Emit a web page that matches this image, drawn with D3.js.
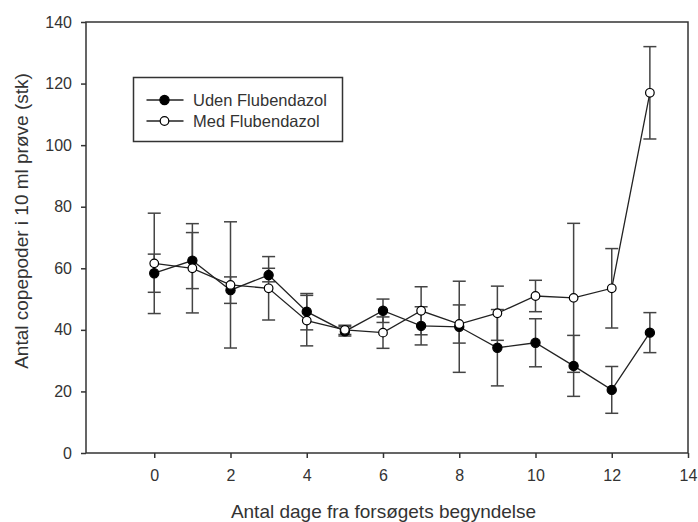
<!DOCTYPE html>
<html><head><meta charset="utf-8">
<script src="https://cdn.jsdelivr.net/npm/d3@7"></script>
<style>
body{margin:0;background:#fff;}
text{font-family:"Liberation Sans",Arial,sans-serif;fill:#333;}
</style></head>
<body>
<svg id="chart" width="698" height="522"></svg>
<script>
const days = [0,1,2,3,4,5,6,7,8,9,10,11,12,13];
const udenMean = [58.4,62.5,52.9,57.8,45.9,39.5,46.2,41.3,41.0,34.2,35.8,28.3,20.5,39.1];
const udenErr  = [6.2,9.1,4.3,2.2,5.9,1.5,3.8,6.2,14.8,12.4,7.8,9.9,7.6,6.5];
const medMean  = [61.6,60.0,54.6,53.5,43.0,40.0,39.1,46.2,41.9,45.4,51.0,50.4,53.5,117.0];
const medErr   = [16.3,14.5,20.5,10.3,8.2,1.5,5.1,7.8,6.2,8.8,5.1,24.2,12.9,15.0];
const xTicks = [0,2,4,6,8,10,12,14];
const yTicks = [0,20,40,60,80,100,120,140];
const seriesNames = ["Uden Flubendazol","Med Flubendazol"];
const xTitle = "Antal dage fra forsøgets begyndelse";
const yTitle = "Antal copepoder i 10 ml prøve (stk)";

const svg = d3.select("#chart");
const L=86, R=688, T=22, B=453;
const x = d3.scaleLinear().domain([-1.79,14]).range([L,R]);
const y = d3.scaleLinear().domain([0,140]).range([B,T]);
const ink = "#333";

// frame
svg.append("rect").attr("x",L).attr("y",T).attr("width",R-L).attr("height",B-T)
  .attr("fill","none").attr("stroke",ink).attr("stroke-width",1.5);

// axes
const xa = svg.append("g").attr("transform",`translate(0,${B})`)
  .call(d3.axisBottom(x).tickValues(xTicks).tickSize(5).tickPadding(12).tickSizeOuter(0));
const ya = svg.append("g").attr("transform",`translate(${L},0)`)
  .call(d3.axisLeft(y).tickValues(yTicks).tickSize(5).tickPadding(9).tickSizeOuter(0));
[xa,ya].forEach(g=>{
  g.select(".domain").remove();
  g.selectAll(".tick line").attr("stroke",ink).attr("stroke-width",1.5);
  g.selectAll(".tick text").attr("font-size",16).attr("fill","#333")
   .style("font-family",'"Liberation Sans",Arial,sans-serif');
});

// titles
svg.append("text").attr("x",(225+542)/2).attr("y",518).attr("text-anchor","middle")
  .attr("font-size",19).text(xTitle);
svg.append("text").attr("transform","translate(28,221) rotate(-90)").attr("text-anchor","middle")
  .attr("font-size",19).text(yTitle);

const series = [
  {mean:udenMean, err:udenErr, fill:"#000"},
  {mean:medMean, err:medErr, fill:"#fff"}
];
const capW = 6.5;
// error bars
series.forEach(s=>{
  const g = svg.append("g").attr("stroke","#444").attr("stroke-width",1.5).attr("fill","none");
  days.forEach((d,i)=>{
    const cx=x(d), y1=y(s.mean[i]+s.err[i]), y0=y(s.mean[i]-s.err[i]);
    g.append("line").attr("x1",cx).attr("x2",cx).attr("y1",y1).attr("y2",y0);
    g.append("line").attr("x1",cx-capW).attr("x2",cx+capW).attr("y1",y1).attr("y2",y1);
    g.append("line").attr("x1",cx-capW).attr("x2",cx+capW).attr("y1",y0).attr("y2",y0);
  });
});
// lines
const line = d3.line().x((d,i)=>x(days[i])).y(d=>y(d));
series.forEach(s=>{
  svg.append("path").attr("d",line(s.mean)).attr("fill","none").attr("stroke","#222").attr("stroke-width",1.3);
});
// markers
series.forEach(s=>{
  svg.append("g").selectAll("circle").data(s.mean).join("circle")
    .attr("cx",(d,i)=>x(days[i])).attr("cy",d=>y(d)).attr("r",s.fill==="#000"?4.6:4.3)
    .attr("fill",s.fill).attr("stroke","#000").attr("stroke-width",1.2);
});

// legend
const lg = svg.append("g");
lg.append("rect").attr("x",133.5).attr("y",77.5).attr("width",209).attr("height",64)
  .attr("fill","#fff").attr("stroke",ink).attr("stroke-width",1.5);
seriesNames.forEach((nm,i)=>{
  const yy = 100 + i*21;
  lg.append("line").attr("x1",146.5).attr("x2",183.5).attr("y1",yy).attr("y2",yy)
    .attr("stroke","#222").attr("stroke-width",1.3);
  lg.append("circle").attr("cx",164.5).attr("cy",yy).attr("r",i===0?4.6:4.3)
    .attr("fill",series[i].fill).attr("stroke","#000").attr("stroke-width",1.2);
  lg.append("text").attr("x",193).attr("y",yy).attr("dy","0.36em").attr("font-size",16.5).text(nm);
});
</script>
</body></html>
